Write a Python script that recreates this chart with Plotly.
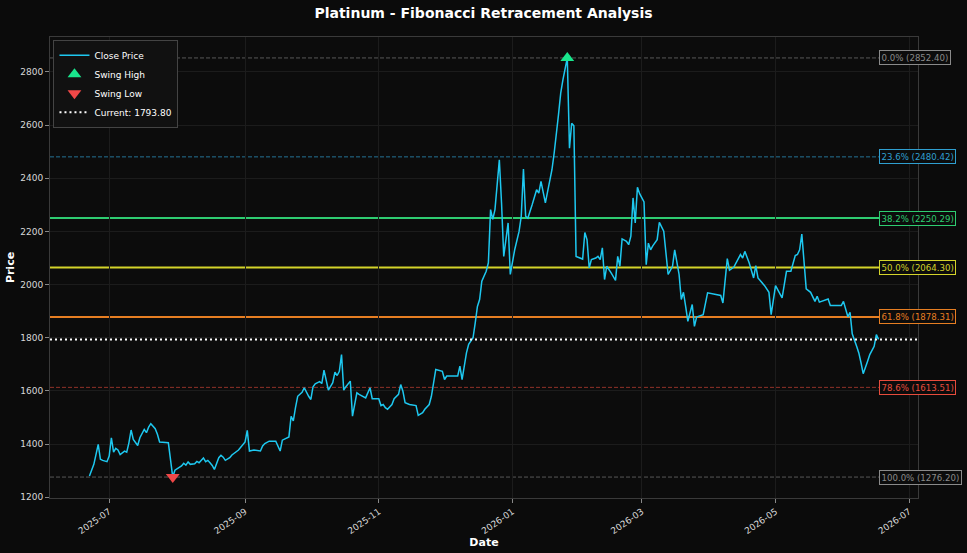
import plotly.graph_objects as go

dates = [
    "2025-06-22", "2025-06-24", "2025-06-26", "2025-06-27", "2025-06-28", "2025-06-30",
    "2025-07-01", "2025-07-02", "2025-07-03", "2025-07-04", "2025-07-05", "2025-07-06",
    "2025-07-08", "2025-07-09", "2025-07-10", "2025-07-11", "2025-07-12", "2025-07-14",
    "2025-07-15", "2025-07-17", "2025-07-18", "2025-07-19", "2025-07-20", "2025-07-22",
    "2025-07-23", "2025-07-24", "2025-07-28", "2025-07-30", "2025-07-31", "2025-08-01",
    "2025-08-03", "2025-08-04", "2025-08-05", "2025-08-06", "2025-08-07", "2025-08-09",
    "2025-08-10", "2025-08-11", "2025-08-13", "2025-08-14", "2025-08-15", "2025-08-16",
    "2025-08-17", "2025-08-18", "2025-08-20", "2025-08-21", "2025-08-22", "2025-08-23",
    "2025-08-25", "2025-08-26", "2025-08-29", "2025-09-01", "2025-09-02", "2025-09-03",
    "2025-09-05", "2025-09-08", "2025-09-09", "2025-09-10", "2025-09-12", "2025-09-15",
    "2025-09-17", "2025-09-18", "2025-09-20", "2025-09-21", "2025-09-22", "2025-09-23",
    "2025-09-24", "2025-09-25", "2025-09-27", "2025-09-28", "2025-09-30", "2025-10-01",
    "2025-10-02", "2025-10-03", "2025-10-05", "2025-10-06", "2025-10-07", "2025-10-08",
    "2025-10-09", "2025-10-11", "2025-10-12", "2025-10-13", "2025-10-14", "2025-10-15",
    "2025-10-16", "2025-10-17", "2025-10-19", "2025-10-20", "2025-10-22", "2025-10-23",
    "2025-10-25", "2025-10-26", "2025-10-28", "2025-10-29", "2025-11-01", "2025-11-02",
    "2025-11-03", "2025-11-04", "2025-11-05", "2025-11-07", "2025-11-08", "2025-11-10",
    "2025-11-11", "2025-11-12", "2025-11-13", "2025-11-15", "2025-11-18", "2025-11-19",
    "2025-11-21", "2025-11-22", "2025-11-24", "2025-11-25", "2025-11-27", "2025-11-28",
    "2025-11-30", "2025-12-01", "2025-12-02", "2025-12-07", "2025-12-08", "2025-12-09",
    "2025-12-11", "2025-12-12", "2025-12-14", "2025-12-15", "2025-12-16", "2025-12-17",
    "2025-12-18", "2025-12-20", "2025-12-21", "2025-12-22", "2025-12-23", "2025-12-24",
    "2025-12-26", "2025-12-27", "2025-12-28", "2025-12-30", "2025-12-31", "2026-01-02",
    "2026-01-04", "2026-01-05", "2026-01-06", "2026-01-07", "2026-01-08", "2026-01-10",
    "2026-01-12", "2026-01-13", "2026-01-14", "2026-01-16", "2026-01-17", "2026-01-19",
    "2026-01-20", "2026-01-21", "2026-01-22", "2026-01-23", "2026-01-24", "2026-01-26",
    "2026-01-27", "2026-01-28", "2026-01-29", "2026-01-30", "2026-02-01", "2026-02-02",
    "2026-02-03", "2026-02-04", "2026-02-05", "2026-02-06", "2026-02-08", "2026-02-09",
    "2026-02-10", "2026-02-11", "2026-02-12", "2026-02-13", "2026-02-15", "2026-02-17",
    "2026-02-18", "2026-02-19", "2026-02-20", "2026-02-22", "2026-02-23", "2026-02-24",
    "2026-02-25", "2026-02-26", "2026-02-27", "2026-02-28", "2026-03-02", "2026-03-03",
    "2026-03-04", "2026-03-05", "2026-03-06", "2026-03-08", "2026-03-09", "2026-03-11",
    "2026-03-13", "2026-03-15", "2026-03-16", "2026-03-18", "2026-03-19", "2026-03-20",
    "2026-03-21", "2026-03-22", "2026-03-24", "2026-03-25", "2026-03-26", "2026-03-29",
    "2026-03-31", "2026-04-04", "2026-04-06", "2026-04-07", "2026-04-08", "2026-04-09",
    "2026-04-10", "2026-04-12", "2026-04-15", "2026-04-16", "2026-04-17", "2026-04-19",
    "2026-04-21", "2026-04-22", "2026-04-23", "2026-04-26", "2026-04-28", "2026-04-29",
    "2026-05-01", "2026-05-02", "2026-05-04", "2026-05-06", "2026-05-08", "2026-05-10",
    "2026-05-11", "2026-05-12", "2026-05-13", "2026-05-15", "2026-05-17", "2026-05-19",
    "2026-05-20", "2026-05-21", "2026-05-24", "2026-05-25", "2026-05-26", "2026-05-29",
    "2026-05-31", "2026-06-01", "2026-06-03", "2026-06-04", "2026-06-05", "2026-06-07",
    "2026-06-08", "2026-06-09", "2026-06-10", "2026-06-12", "2026-06-13", "2026-06-15",
    "2026-06-16", "2026-06-17",
]

close = [
    1280, 1324, 1399, 1343, 1339, 1334,
    1355, 1424, 1370, 1384, 1378, 1361,
    1374, 1370, 1405, 1453, 1418, 1395,
    1424, 1455, 1443, 1464, 1477, 1458,
    1437, 1408, 1405, 1276.2, 1302, 1308,
    1318, 1328, 1321, 1333, 1324, 1326,
    1335, 1330, 1348, 1334, 1339, 1330,
    1320, 1305, 1349, 1358, 1351, 1339,
    1349, 1359, 1378, 1408, 1452, 1374,
    1378, 1374, 1393, 1402, 1411, 1411,
    1374, 1415, 1424, 1427, 1505, 1487,
    1537, 1580, 1595, 1612, 1580, 1568,
    1616, 1627, 1635, 1628, 1678, 1637,
    1603, 1631, 1671, 1658, 1674, 1737,
    1603, 1616, 1637, 1505, 1593, 1587,
    1580, 1574, 1612, 1571, 1571, 1545,
    1549, 1537, 1531, 1549, 1571, 1587,
    1624, 1599, 1556, 1549, 1545, 1508,
    1518, 1531, 1549, 1580, 1681, 1678,
    1674, 1643, 1656, 1656, 1693, 1643,
    1743, 1775, 1800, 1856, 1918, 1944,
    2013, 2050, 2082, 2282, 2245, 2282,
    2469, 2307, 2106, 2232, 2038, 2131,
    2200, 2257, 2435, 2257, 2250, 2301,
    2357, 2344, 2388, 2307, 2351, 2432,
    2494, 2557, 2640, 2720, 2770, 2852.4,
    2513, 2607, 2597, 2106, 2100, 2096,
    2196, 2169, 2063, 2094, 2100, 2106,
    2094, 2138, 2019, 2069, 2044, 2016,
    2106, 2069, 2172, 2163, 2150, 2182,
    2326, 2232, 2366, 2342, 2311, 2075,
    2156, 2131, 2146, 2169, 2234, 2201,
    2038, 2069, 2131, 2038, 1944, 1971,
    1918, 1862, 1925, 1843, 1878, 1887,
    1969, 1962, 1959, 1931, 2025, 2098,
    2054, 2066, 2113, 2100, 2125, 2081,
    2025, 2071, 2025, 1996, 1971, 1887,
    1996, 1981, 1950, 2050, 2050, 2109,
    2113, 2131, 2190, 1984, 1971, 1937,
    1956, 1934, 1941, 1946, 1921, 1921,
    1921, 1937, 1879, 1896, 1815, 1768,
    1743, 1706, 1665, 1712, 1737, 1768,
    1812, 1793.8,
]

fib_ratios = [0.0, 0.236, 0.382, 0.5, 0.618, 0.786, 1.0]
fib_colors = ["#8a8a8a", "#2f9fd0", "#2ecc71", "#d4d42a", "#e67e22", "#e74c3c", "#8a8a8a"]
fib_dash = ["4px,2px", "4px,2px", "solid", "solid", "solid", "4px,2px", "4px,2px"]
fib_width = [1, 1, 2, 2, 2, 1, 1]
fib_opacity = [0.6, 0.7, 1.0, 1.0, 1.0, 0.6, 0.6]

title_text = "Platinum - Fibonacci Retracement Analysis"

hi_idx = max(range(len(close)), key=lambda i: close[i])
lo_idx = min(range(len(close)), key=lambda i: close[i])
swing_high = close[hi_idx]
swing_low = close[lo_idx]
current = close[-1]
diff = swing_high - swing_low
fib_levels = [swing_high - r * diff for r in fib_ratios]

FONT = "DejaVu Sans"
fig = go.Figure()

shapes = []
annotations = []
for r, lvl, col, dsh, w, op in zip(fib_ratios, fib_levels, fib_colors, fib_dash, fib_width, fib_opacity):
    shapes.append(dict(type="line", xref="paper", x0=0, x1=1, yref="y", y0=lvl, y1=lvl,
                       line=dict(color=col, width=w, dash=dsh), opacity=op, layer="below"))
    annotations.append(dict(x=dates[-1], y=lvl, xref="x", yref="y", xanchor="left", yanchor="middle",
                            text=f"{r*100:.1f}% ({lvl:.2f})", showarrow=False,
                            font=dict(family=FONT, size=8.6, color=col),
                            bgcolor="#0c0c0c", bordercolor=col, borderwidth=1, borderpad=1.5))

shapes.append(dict(type="line", xref="paper", x0=0, x1=1, yref="y", y0=current, y1=current,
                   line=dict(color="#ffffff", width=2, dash="2px,3px"), layer="above",
                   showlegend=True, name=f"Current: {current:.2f}", legendrank=1004))

fig.add_trace(go.Scatter(x=dates, y=close, mode="lines", name="Close Price",
                         line=dict(color="#1ec8f0", width=1.5), legendrank=1001))
fig.add_trace(go.Scatter(x=[dates[hi_idx]], y=[swing_high], mode="markers", name="Swing High",
                         marker=dict(symbol="triangle-up", size=12, color="#19e68c"), legendrank=1002))
fig.add_trace(go.Scatter(x=[dates[lo_idx]], y=[swing_low], mode="markers", name="Swing Low",
                         marker=dict(symbol="triangle-down", size=12, color="#f04848"), legendrank=1003))

axis_common = dict(showgrid=True, gridcolor="#1c1c1c", gridwidth=1, zeroline=False,
                   showline=True, linecolor="#3a3a3a", linewidth=1, mirror=True,
                   ticks="outside", tickcolor="#888888", ticklen=4, automargin=False,
                   tickfont=dict(family=FONT, size=9, color="#d8d8d8"))

fig.update_layout(
    width=967, height=553,
    margin=dict(l=50, r=49, t=37, b=55),
    paper_bgcolor="#0b0b0b", plot_bgcolor="#0c0c0c",
    font=dict(family=FONT, color="#ffffff"),
    title=dict(text=f"<b>{title_text}</b>", x=0.5, xanchor="center", y=0.977, yanchor="middle",
               font=dict(family=FONT, size=14, color="#ffffff")),
    xaxis=dict(axis_common, type="date", range=["2025-06-04", "2026-07-05"],
               tickformat="%Y-%m", dtick="M2", tick0="2025-07-01", tickangle=-35,
               title=dict(text="<b>Date</b>", font=dict(family=FONT, size=11, color="#ffffff"), standoff=2)),
    yaxis=dict(axis_common, range=[1197.4, 2931.2], dtick=200, tick0=1200,
               title=dict(text="<b>Price</b>", font=dict(family=FONT, size=11, color="#ffffff"), standoff=3)),
    legend=dict(x=0.004, y=0.994, xanchor="left", yanchor="top",
                bgcolor="#111111", bordercolor="#444444", borderwidth=1,
                font=dict(family=FONT, size=9, color="#ffffff"),
                tracegroupgap=0, itemwidth=30),
    shapes=shapes, annotations=annotations,
    showlegend=True,
)

fig.write_html("out.html")
